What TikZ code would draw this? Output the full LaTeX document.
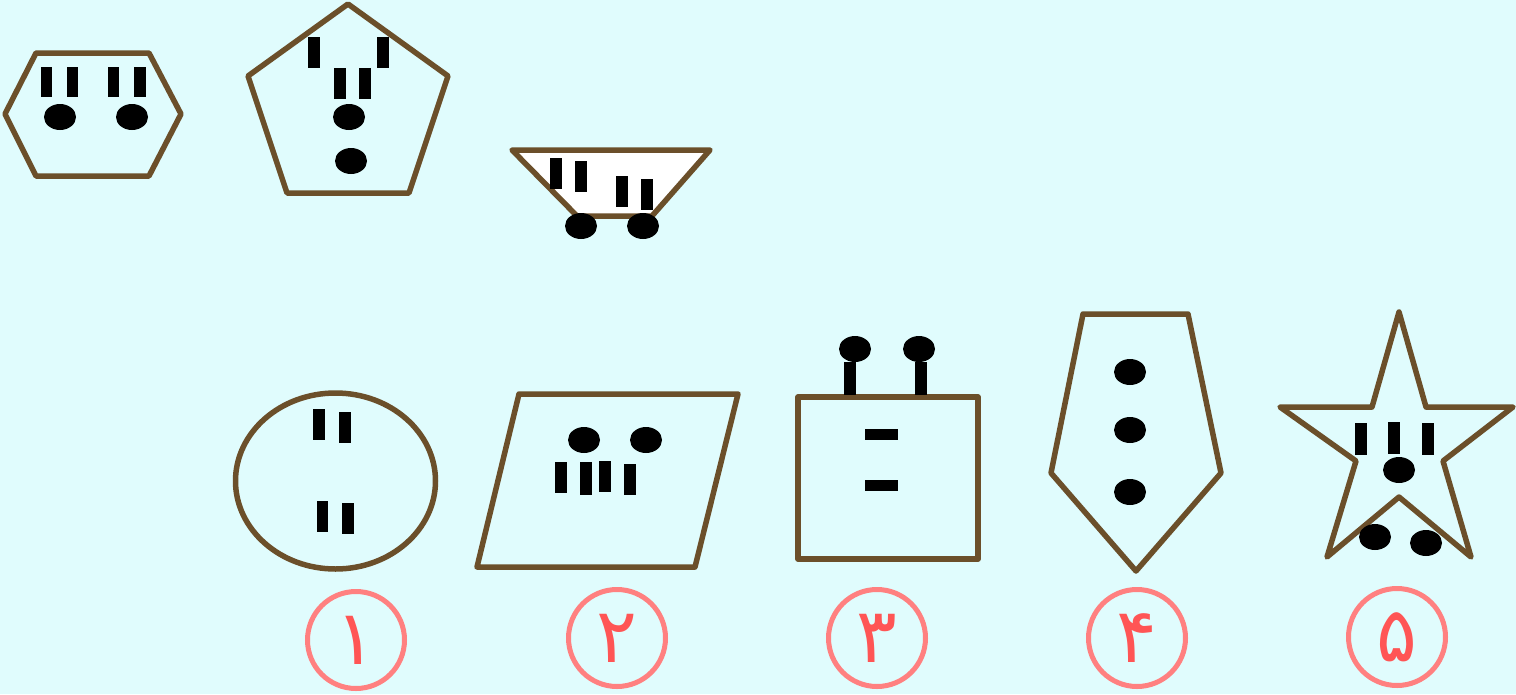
\documentclass[tikz,border=0pt]{standalone}
\usepackage{fontspec}
\newfontfamily\persianfont[Script=Arabic]{DejaVu Sans}
\definecolor{bgc}{RGB}{224,252,253}
\definecolor{brownc}{RGB}{107,79,42}
\definecolor{ringc}{RGB}{255,128,128}
\definecolor{digitc}{RGB}{255,85,85}
\tikzset{
  outline/.style={draw=brownc, line width=5.5pt, line join=round},
  barc/.style={fill=black},
  dotc/.style={fill=black},
  ring/.style={circle, draw=ringc, line width=5pt, minimum size=97pt, inner sep=0pt},
  digit/.style={text=digitc, inner sep=0pt, font=\persianfont\fontsize{76}{76}\selectfont}
}
\begin{document}
\begin{tikzpicture}[x=1pt,y=-1pt]
\useasboundingbox[fill=bgc] (0,0) rectangle (1516,694);
% hexagon
\draw[outline] (5,114) -- (36,53) -- (149,53) -- (181,114) -- (149,176) -- (36,176) -- cycle;
\fill[barc] (41,67) rectangle (52,97);
\fill[barc] (67,67) rectangle (78,97);
\fill[barc] (108,67) rectangle (119,97);
\fill[barc] (134,67) rectangle (146,97);
\fill[dotc] (60,117) ellipse [x radius=16pt, y radius=13pt];
\fill[dotc] (132,117) ellipse [x radius=16pt, y radius=13pt];
% pentagon
\draw[outline] (348,4) -- (448,76) -- (409,193) -- (287,193) -- (248,76) -- cycle;
\fill[barc] (308,37) rectangle (320,68);
\fill[barc] (377,37) rectangle (389,68);
\fill[barc] (334,68) rectangle (346,99);
\fill[barc] (359,68) rectangle (371,99);
\fill[dotc] (349,117) ellipse [x radius=16pt, y radius=13pt];
\fill[dotc] (351,161) ellipse [x radius=16pt, y radius=13pt];
% trapezoid
\draw[outline, fill=white] (512,150) -- (710,150) -- (652,216) -- (577,216) -- cycle;
\fill[barc] (550,158) rectangle (562,189);
\fill[barc] (575,161) rectangle (587,192);
\fill[barc] (616,176) rectangle (628,207);
\fill[barc] (641,179) rectangle (653,210);
\fill[dotc] (581,226) ellipse [x radius=16pt, y radius=13pt];
\fill[dotc] (643,226) ellipse [x radius=16pt, y radius=13pt];
% ellipse shape
\draw[outline] (335.5,481) ellipse [x radius=100pt, y radius=88pt];
\fill[barc] (313,409) rectangle (325,440);
\fill[barc] (339,412) rectangle (351,443);
\fill[barc] (317,501) rectangle (328,532);
\fill[barc] (342,503) rectangle (354,534);
% parallelogram
\draw[outline] (519,394) -- (738,394) -- (695,567) -- (477,567) -- cycle;
\fill[dotc] (584,440) ellipse [x radius=16pt, y radius=13pt];
\fill[dotc] (646,440) ellipse [x radius=16pt, y radius=13pt];
\fill[barc] (555,462) rectangle (567,493);
\fill[barc] (580,462) rectangle (592,495);
\fill[barc] (599,461) rectangle (611,492);
\fill[barc] (624,464) rectangle (636,495);
% square
\draw[outline] (798,397) rectangle (978,559);
\fill[barc] (865,429) rectangle (898,440);
\fill[barc] (865,480) rectangle (898,491);
\fill[barc] (844,362) rectangle (856,395);
\fill[barc] (915,362) rectangle (927,395);
\fill[dotc] (855,349) ellipse [x radius=16pt, y radius=13pt];
\fill[dotc] (919,349) ellipse [x radius=16pt, y radius=13pt];
% tie
\draw[outline] (1083,314) -- (1188,314) -- (1221,473) -- (1136,571) -- (1051,473) -- cycle;
\fill[dotc] (1130,372) ellipse [x radius=16pt, y radius=13pt];
\fill[dotc] (1130,430) ellipse [x radius=16pt, y radius=13pt];
\fill[dotc] (1130,492) ellipse [x radius=16pt, y radius=13pt];
% star
\draw[outline] (1399,312) -- (1426,407) -- (1513,407) -- (1443,461) -- (1471,557) -- (1399,497) -- (1327,557) -- (1356,461) -- (1280,407) -- (1372,407) -- cycle;
\fill[barc] (1355,423) rectangle (1367,455);
\fill[barc] (1388,422) rectangle (1400,454);
\fill[barc] (1422,423) rectangle (1434,455);
\fill[dotc] (1399,470) ellipse [x radius=16pt, y radius=13pt];
\fill[dotc] (1375,537) ellipse [x radius=16pt, y radius=13pt];
\fill[dotc] (1426,543) ellipse [x radius=16pt, y radius=13pt];
% numbers
\node[ring] (r1) at (356,640) {};
\node[ring] (r2) at (617,638) {};
\node[ring] (r3) at (877,638) {};
\node[ring] (r4) at (1137,638) {};
\node[ring] (r5) at (1397,637) {};
\node[digit] (d1) at (r1.center) {۱};
\node[digit] (d2) at (r2.center) {۲};
\node[digit] (d3) at (r3.center) {۳};
\node[digit] (d4) at (r4.center) {۴};
\node[digit] (d5) at (r5.center) {۵};
\end{tikzpicture}
\end{document}
